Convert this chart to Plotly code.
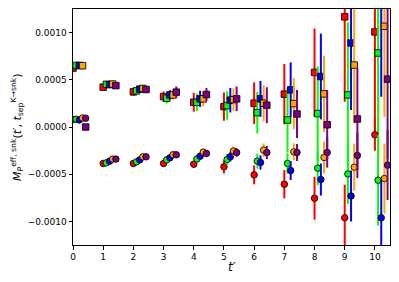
import plotly.graph_objects as go

t_vals = [0, 1, 2, 3, 4, 5, 6, 7, 8, 9, 10]
series_names = ["red", "green", "blue", "orange", "purple"]
series_colors = ["#ff0000", "#00ff00", "#0000ff", "#ffa500", "#800080"]
offsets = [0.0, 0.105, 0.21, 0.315, 0.42]

# upper group (squares), units of 1e-3
sq_red = [0.624, 0.422, 0.372, 0.322, 0.262, 0.216, 0.252, 0.348, 0.578, 1.167, 1.007]
sq_green = [0.652, 0.452, 0.383, 0.305, 0.262, 0.227, 0.152, 0.074, 0.142, 0.340, 0.784]
sq_blue = [0.652, 0.449, 0.401, 0.340, 0.298, 0.284, 0.298, 0.394, 0.535, 0.890, 1.300]
sq_orange = [0.649, 0.455, 0.408, 0.340, 0.298, 0.290, 0.252, 0.248, 0.351, 0.656, 1.067]
sq_purple = [0.000, 0.438, 0.397, 0.369, 0.344, 0.298, 0.231, 0.138, 0.024, 0.085, 0.507]

sq_err_red = [0.01, 0.02, 0.04, 0.055, 0.10, 0.15, 0.22, 0.32, 0.465, 0.90, 1.05]
sq_err_green = [0.01, 0.02, 0.04, 0.055, 0.09, 0.15, 0.22, 0.34, 0.50, 0.77, 0.90]
sq_err_blue = [0.01, 0.02, 0.04, 0.05, 0.085, 0.13, 0.19, 0.29, 0.454, 0.71, 0.98]
sq_err_orange = [0.01, 0.02, 0.04, 0.05, 0.08, 0.12, 0.19, 0.27, 0.404, 0.62, 0.96]
sq_err_purple = [0.01, 0.02, 0.035, 0.06, 0.07, 0.13, 0.19, 0.255, 0.369, 0.54, 0.85]

# lower group (circles), units of 1e-3
ci_red = [0.080, -0.386, -0.386, -0.386, -0.394, -0.422, -0.507, -0.606, -0.755, -0.961, -0.082]
ci_green = [0.082, -0.380, -0.369, -0.348, -0.340, -0.344, -0.362, -0.386, -0.436, -0.497, -0.564]
ci_blue = [0.074, -0.362, -0.348, -0.326, -0.309, -0.316, -0.376, -0.461, -0.556, -0.731, -0.961]
ci_orange = [0.096, -0.340, -0.316, -0.294, -0.266, -0.255, -0.245, -0.263, -0.323, -0.426, -0.546]
ci_purple = [0.093, -0.340, -0.316, -0.294, -0.280, -0.270, -0.270, -0.270, -0.270, -0.301, -0.404]

ci_err_red = [0.005, 0.01, 0.015, 0.02, 0.035, 0.07, 0.10, 0.15, 0.227, 0.35, 0.17]
ci_err_green = [0.005, 0.01, 0.015, 0.025, 0.04, 0.06, 0.08, 0.11, 0.18, 0.32, 0.48]
ci_err_blue = [0.005, 0.01, 0.015, 0.02, 0.035, 0.05, 0.075, 0.10, 0.17, 0.27, 0.40]
ci_err_orange = [0.005, 0.01, 0.015, 0.02, 0.03, 0.05, 0.07, 0.09, 0.17, 0.25, 0.37]
ci_err_purple = [0.005, 0.01, 0.015, 0.02, 0.03, 0.045, 0.07, 0.09, 0.16, 0.24, 0.37]

y_ticks = [0.0010, 0.0005, 0.0, -0.0005, -0.0010]
y_ticktext = ["0.0010", "0.0005", "0.0000", "\u22120.0005", "\u22120.0010"]
x_ticks = [0, 1, 2, 3, 4, 5, 6, 7, 8, 9, 10]

sq_all = [sq_red, sq_green, sq_blue, sq_orange, sq_purple]
sq_err_all = [sq_err_red, sq_err_green, sq_err_blue, sq_err_orange, sq_err_purple]
ci_all = [ci_red, ci_green, ci_blue, ci_orange, ci_purple]
ci_err_all = [ci_err_red, ci_err_green, ci_err_blue, ci_err_orange, ci_err_purple]

fig = go.Figure()
scale = 1e-3
for group, errs, symbol in [(sq_all, sq_err_all, "square"), (ci_all, ci_err_all, "circle")]:
    for i, name in enumerate(series_names):
        col = series_colors[i]
        fig.add_trace(go.Scatter(
            x=[t + offsets[i] for t in t_vals],
            y=[v * scale for v in group[i]],
            mode="markers",
            name=name,
            marker=dict(symbol=symbol, size=6.5, color=col,
                        line=dict(color="rgba(0,0,0,0.85)", width=1)),
            error_y=dict(type="data", array=[e * scale for e in errs[i]],
                         color=col, thickness=2, width=0),
            showlegend=False,
            hoverinfo="skip",
        ))

plot_w = 399 - 73 - 9
plot_h = 282 - 9 - 37

fig.update_layout(
    width=399, height=282,
    margin=dict(l=73, r=9, t=9, b=37, autoexpand=False),
    paper_bgcolor="white", plot_bgcolor="white",
    font=dict(family="DejaVu Sans", size=9, color="black"),
    xaxis=dict(range=[0, 10.5], tickvals=x_ticks, ticks="outside", ticklen=3.5,
               tickcolor="black", showgrid=False, zeroline=False, automargin=False,
               showline=True, linecolor="black", linewidth=1, mirror=True),
    yaxis=dict(range=[-0.00125, 0.00125], tickvals=y_ticks, ticktext=y_ticktext,
               ticks="outside", ticklen=3.5, tickcolor="black", showgrid=False,
               automargin=False,
               zeroline=False, showline=True, linecolor="black", linewidth=1, mirror=True),
    annotations=[
        dict(text="<i>t\u2032</i>", x=0.5, y=-13 / plot_h, xref="paper", yref="paper",
             xanchor="center", yanchor="top", showarrow=False, font=dict(size=12)),
        dict(text="<i>M</i><sub><i>P</i></sub><sup>eff, snk</sup>(<i>t\u2032</i>, <i>t</i><sub>sep</sub><sup>K\u2192snk</sup>)",
             x=(17 - 73) / plot_w, y=0.5, xref="paper", yref="paper", showarrow=False,
             textangle=-90, font=dict(size=11), xanchor="center", yanchor="middle"),
    ],
)

fig.write_html("out.html", config={"displayModeBar": False},
               post_script="document.body.style.margin='0';")
